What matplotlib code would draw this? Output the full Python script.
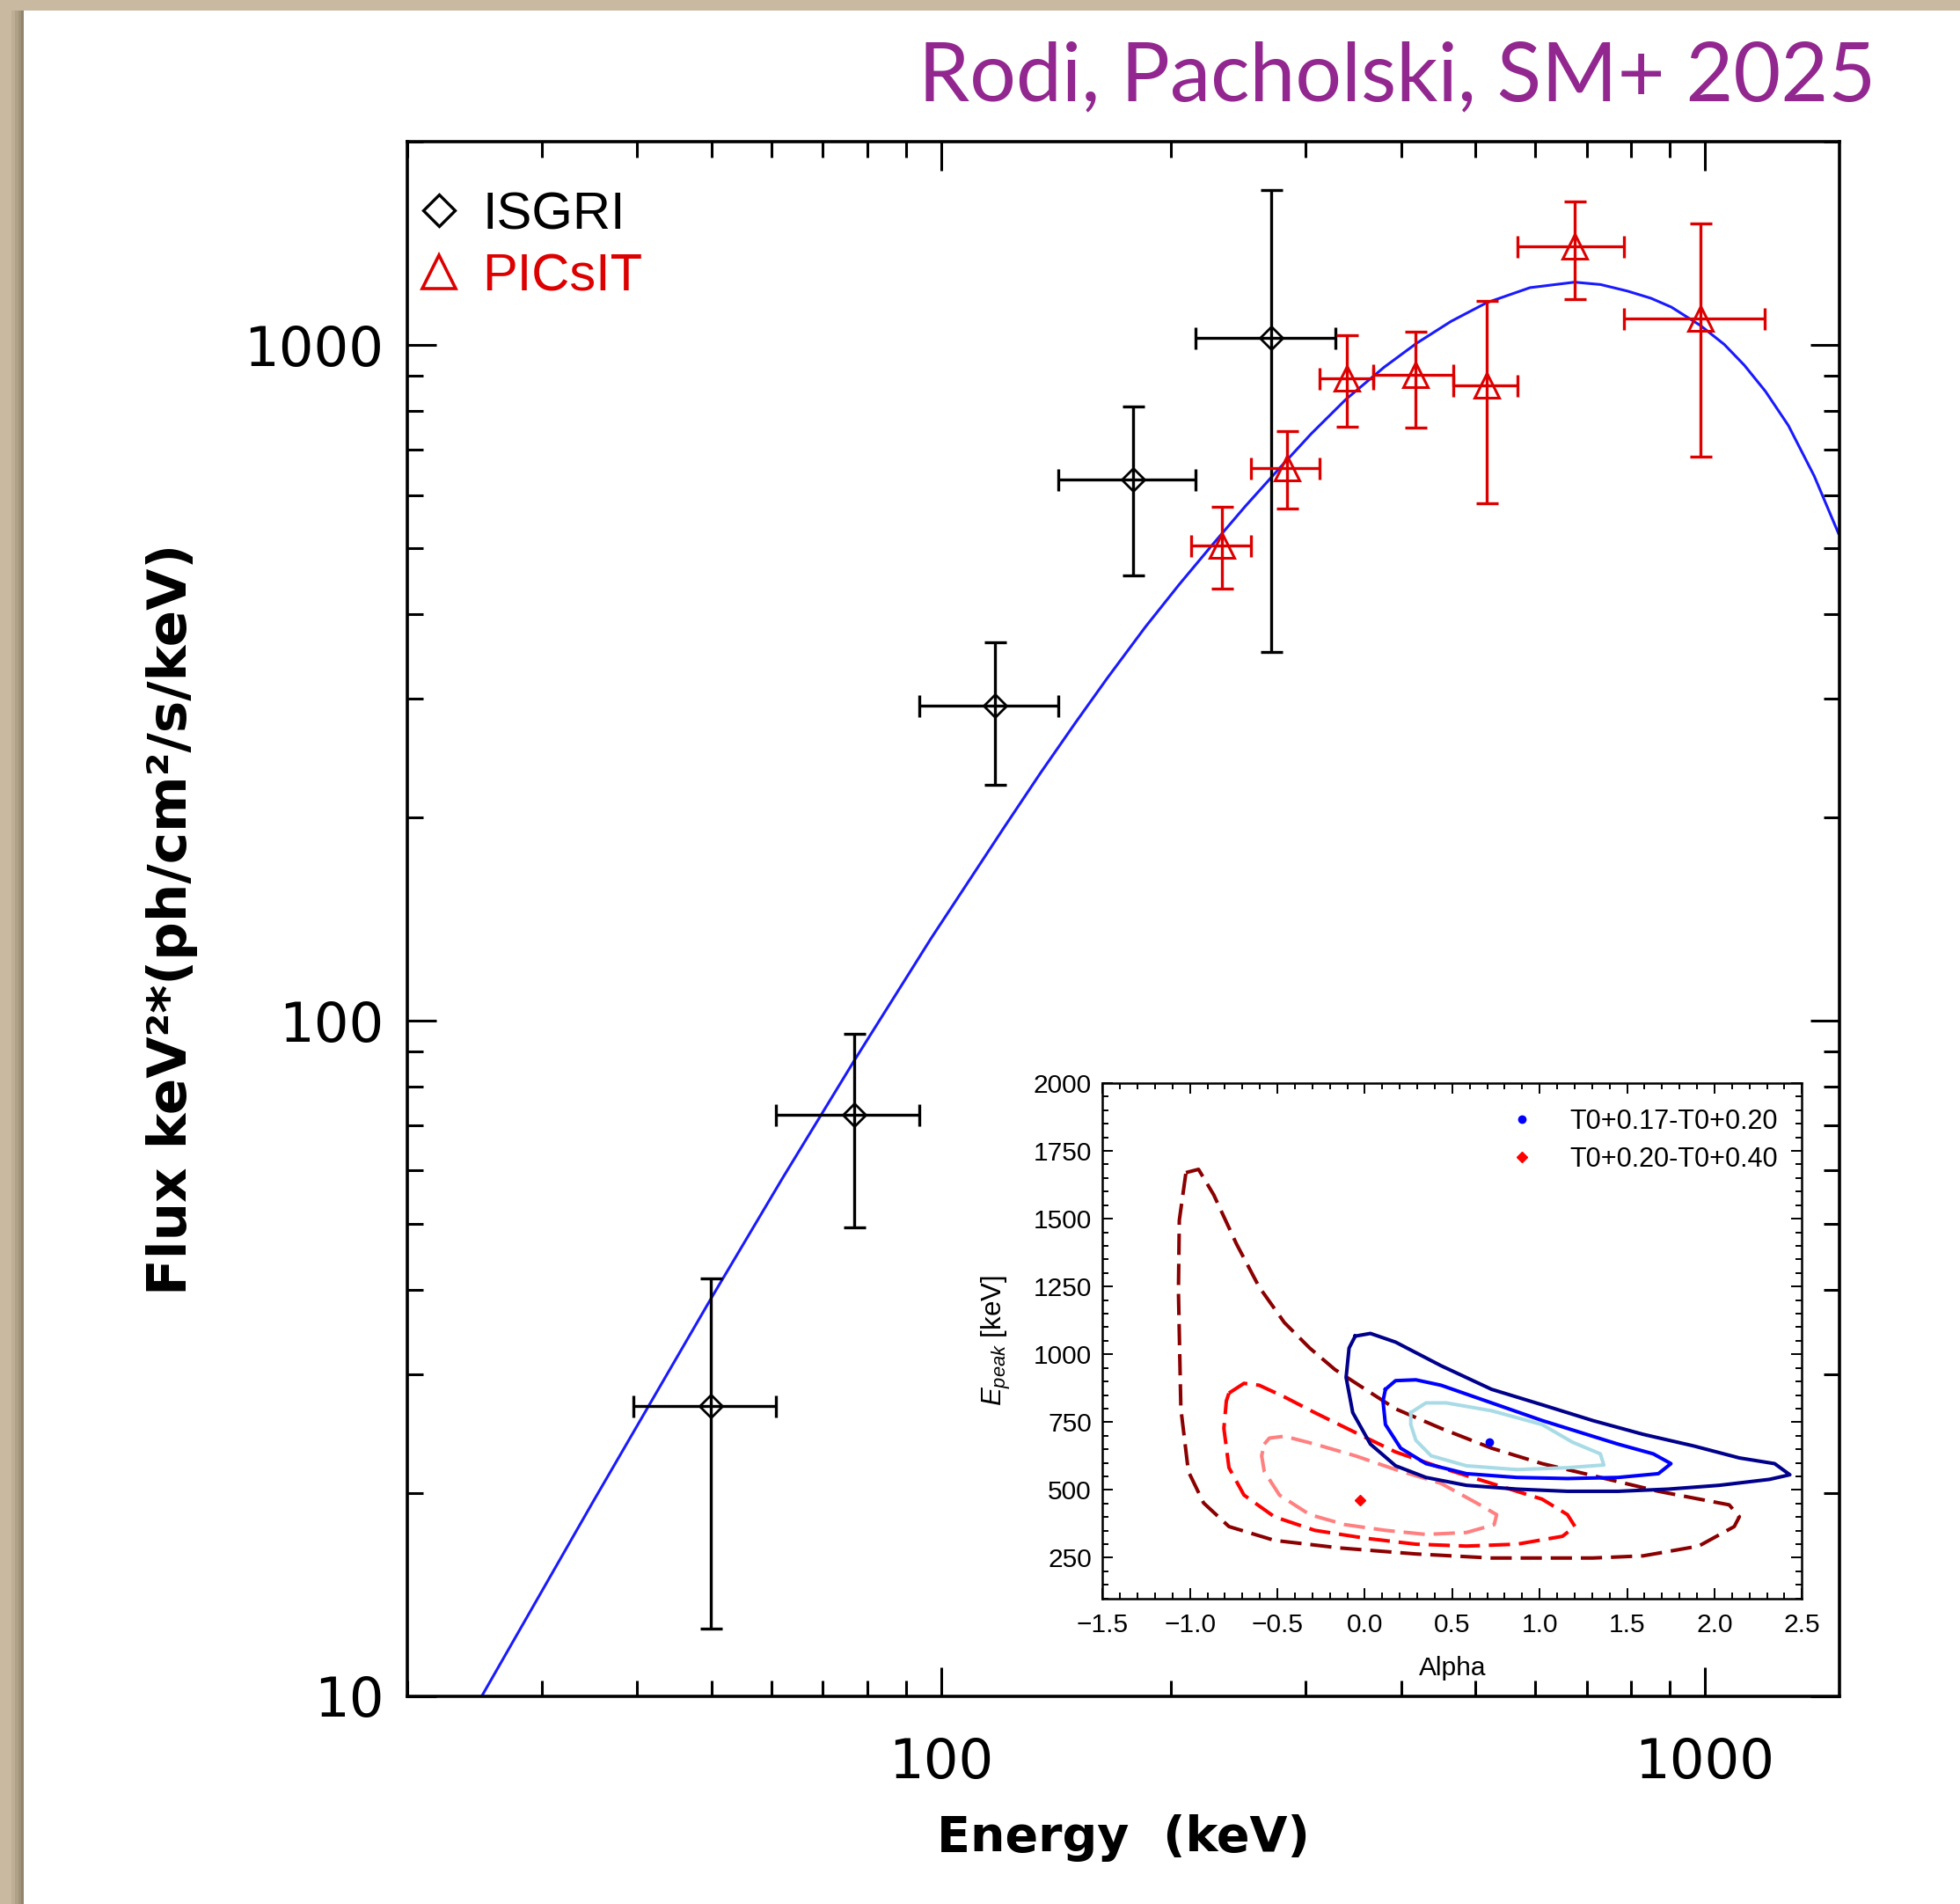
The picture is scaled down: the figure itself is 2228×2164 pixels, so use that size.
import matplotlib
matplotlib.use("Agg")
import matplotlib.pyplot as plt
from matplotlib.lines import Line2D
from matplotlib.patches import Rectangle
from matplotlib.ticker import FixedLocator, FixedFormatter, LogLocator, NullFormatter, MultipleLocator

plt.rcParams['mathtext.fontset'] = 'custom'
plt.rcParams['mathtext.rm'] = 'Liberation Sans'
plt.rcParams['mathtext.it'] = 'Liberation Sans:italic'

# ----------------------------
# Spectral data (keV, keV^2 ph/cm2/s/keV)
# ----------------------------
isgri_e    = [49.9, 77.0, 117.6, 178.5, 270.7]
isgri_e_lo = [39.5, 60.7, 93.7, 142.3, 215.5]
isgri_e_hi = [60.7, 93.7, 142.3, 215.5, 328.6]
isgri_f    = [26.9, 72.5, 292.5, 633.0, 1025.0]
isgri_f_lo = [12.6, 49.5, 223.6, 456.5, 351.0]
isgri_f_hi = [41.6, 95.6, 362.8, 810.0, 1696.0]

picsit_e    = [233.3, 283.6, 340.1, 417.8, 517.6, 675.0, 987.4]
picsit_e_lo = [212.3, 254.4, 313.2, 368.3, 468.8, 568.9, 782.6]
picsit_e_hi = [254.4, 313.2, 368.3, 468.8, 568.9, 782.6, 1196.0]
picsit_f    = [505.6, 658.0, 891.9, 903.2, 871.4, 1401.0, 1096.0]
picsit_f_lo = [435.6, 572.0, 756.5, 755.0, 583.7, 1169.0, 682.8]
picsit_f_hi = [576.8, 746.0, 1033.0, 1046.0, 1161.0, 1630.0, 1512.0]

# best-fit model, sampled along the curve
model_e = [25.1, 35.0, 49.9, 62.0, 77.0, 97.0, 120.8, 135.0, 150.0, 165.0,
           185.0, 205.0, 225.4, 250.0, 278.7, 305.0, 338.5, 380.0, 418.6, 465.0,
           517.6, 590.0, 675.0, 730.0, 791.5, 850.0, 903.7, 987.4, 1060.0, 1126.0,
           1200.0, 1286.0, 1390.0, 1496.0]
model_f = [10.06, 19.4, 38.7, 58.5, 87.4, 132.4, 193.0, 232.9, 276.4, 321.4,
           382.4, 442.4, 503.0, 576.9, 661.4, 738.8, 830.4, 927.0, 1005.0, 1084.0,
           1155.0, 1216.0, 1239.0, 1229.0, 1202.0, 1172.8, 1138.0, 1068.0, 1002.0, 933.5,
           854.0, 760.0, 640.0, 525.8]

# ----------------------------
# Confidence contours (alpha, Epeak)
# ----------------------------
late_99_a = [-1.023, -0.951, -0.864, -0.734, -0.604, -0.460, -0.315, -0.171, 0.003, 0.176,
             0.436, 0.725, 1.014, 1.303, 1.679, 2.084, 2.142, 2.113, 1.910, 1.592,
             1.303, 0.725, 0.292, -0.142, -0.517, -0.777, -0.922, -1.009, -1.052, -1.066, -1.061]
late_99_e = [1670, 1682, 1588, 1407, 1248, 1117, 1023, 944, 871, 799,
             727, 654, 597, 553, 495, 445, 401, 365, 293, 257,
             249, 249, 264, 286, 314, 365, 452, 568, 799, 1233, 1494]

late_90_a = [-0.777, -0.691, -0.604, -0.460, -0.286, -0.055, 0.176, 0.436, 0.725, 1.014,
             1.159, 1.202, 1.130, 0.870, 0.581, 0.292, 0.003, -0.286, -0.517, -0.691,
             -0.777, -0.806, -0.792]
late_90_e = [857, 893, 886, 843, 785, 712, 640, 582, 524, 466,
             409, 365, 329, 300, 293, 300, 322, 351, 401, 481,
             582, 727, 828]

late_68_a = [-0.575, -0.546, -0.460, -0.286, -0.055, 0.176, 0.436, 0.639, 0.754, 0.740,
             0.581, 0.350, 0.118, -0.113, -0.315, -0.488, -0.575, -0.590]
late_68_e = [669, 691, 698, 669, 626, 575, 524, 452, 409, 372,
             343, 336, 351, 372, 409, 481, 568, 626]

early_99_a = [-0.055, 0.032, 0.176, 0.436, 0.725, 1.014, 1.303, 1.592, 1.882, 2.142,
              2.344, 2.431, 2.315, 2.026, 1.737, 1.448, 1.159, 0.870, 0.581, 0.350,
              0.176, 0.032, -0.069, -0.107, -0.090]
early_99_e = [1067, 1077, 1045, 958, 871, 814, 756, 705, 662, 618,
              597, 556, 539, 517, 503, 495, 495, 503, 517, 546,
              589, 669, 785, 915, 1023]

early_90_a = [0.118, 0.176, 0.292, 0.436, 0.725, 1.014, 1.303, 1.448, 1.650, 1.751,
              1.679, 1.448, 1.159, 0.870, 0.581, 0.350, 0.205, 0.118, 0.104]
early_90_e = [871, 903, 906, 886, 821, 756, 698, 669, 633, 597,
              560, 546, 542, 546, 560, 597, 654, 741, 828]

early_68_a = [0.263, 0.350, 0.465, 0.725, 1.014, 1.188, 1.347, 1.367, 1.159, 0.870,
              0.581, 0.379, 0.292, 0.263]
early_68_e = [785, 821, 821, 792, 741, 676, 633, 592, 582, 575,
              589, 626, 683, 741]

best_early = (0.711, 676)
best_late = (-0.026, 462)

red = '#dd0000'

def closed(a, e):
    return a + a[:1], e + e[:1]

# ----------------------------
# Figure + page background
# ----------------------------
fig = plt.figure(figsize=(22.28, 21.64), dpi=100)
fig.patch.set_facecolor('#c9b9a0')
W, H = 2228.0, 2164.0
for k, a in [(14, 0.08), (10, 0.10), (6, 0.12), (3, 0.15)]:
    fig.patches.append(Rectangle(((27 - k) / W, 0), 1, (H - 12) / H, transform=fig.transFigure,
                                 facecolor='#3b2f1e', alpha=a, edgecolor='none', zorder=-12))
fig.patches.append(Rectangle((27 / W, 0), 1, (H - 12) / H, transform=fig.transFigure,
                             facecolor='white', edgecolor='none', zorder=-10))

fig.text(2132 / W, 1 - 88 / H, "Rodi, Pacholski, SM+ 2025", ha='right', va='center',
         color='#92278f', fontsize=67, fontweight='normal', family=['Lato', 'DejaVu Sans'])

# ----------------------------
# Main spectrum
# ----------------------------
ax = fig.add_axes([463 / W, 1 - 1928 / H, (2091 - 463) / W, (1928 - 161) / H])
ax.set_xscale('log')
ax.set_yscale('log')

ax.plot(model_e, model_f, color='#1a1aff', lw=2.2, zorder=2)

ax.errorbar(isgri_e, isgri_f,
            xerr=[[c - l for c, l in zip(isgri_e, isgri_e_lo)], [h - c for c, h in zip(isgri_e, isgri_e_hi)]],
            yerr=[[c - l for c, l in zip(isgri_f, isgri_f_lo)], [h - c for c, h in zip(isgri_f, isgri_f_hi)]],
            fmt='none', ecolor='black', elinewidth=2.4, capsize=9, capthick=2.4, zorder=3)
ax.plot(isgri_e, isgri_f, ls='none', marker='D', ms=13, mfc='none', mec='black', mew=2.0, zorder=4)

ax.errorbar(picsit_e, picsit_f,
            xerr=[[c - l for c, l in zip(picsit_e, picsit_e_lo)], [h - c for c, h in zip(picsit_e, picsit_e_hi)]],
            yerr=[[c - l for c, l in zip(picsit_f, picsit_f_lo)], [h - c for c, h in zip(picsit_f, picsit_f_hi)]],
            fmt='none', ecolor=red, elinewidth=2.4, capsize=9, capthick=2.4, zorder=3)
ax.plot(picsit_e, picsit_f, ls='none', marker='^', ms=20, mfc='none', mec=red, mew=2.2, zorder=4)

ax.set_xlim(20, 1500)
ax.set_ylim(10, 2000)

ax.xaxis.set_major_locator(FixedLocator([100, 1000]))
ax.xaxis.set_major_formatter(FixedFormatter(['100', '1000']))
ax.xaxis.set_minor_locator(LogLocator(base=10, subs=range(2, 10), numticks=20))
ax.xaxis.set_minor_formatter(NullFormatter())
ax.yaxis.set_major_locator(FixedLocator([10, 100, 1000]))
ax.yaxis.set_major_formatter(FixedFormatter(['10', '100', '1000']))
ax.yaxis.set_minor_locator(LogLocator(base=10, subs=range(2, 10), numticks=20))
ax.yaxis.set_minor_formatter(NullFormatter())

ax.tick_params(which='both', direction='in', top=True, right=True, width=2.2, color='black')
ax.tick_params(which='major', length=24)
ax.tick_params(which='minor', length=13)
ax.tick_params(axis='x', which='major', labelsize=45, pad=33)
ax.tick_params(axis='y', which='major', labelsize=45, pad=19)
for s in ax.spines.values():
    s.set_linewidth(2.6)

ax.set_xlabel("Energy  (keV)", fontsize=40, fontweight='bold')
ax.xaxis.set_label_coords(0.5, -0.076)
ax.set_ylabel("Flux keV²*(ph/cm²/s/keV)", fontsize=44, fontweight='bold')
ax.yaxis.set_label_coords(-0.146, 0.5)

handles = [Line2D([], [], ls='none', marker='D', ms=18, mfc='none', mec='black', mew=2.4),
           Line2D([], [], ls='none', marker='^', ms=27, mfc='none', mec=red, mew=2.6)]
leg = ax.legend(handles, ['ISGRI', 'PICsIT'], loc='upper left', bbox_to_anchor=(0.004, 0.975),
                borderaxespad=0, borderpad=0.2, frameon=False, handlelength=0.6,
                handletextpad=0.52, labelspacing=0.25,
                prop={'family': 'Liberation Sans', 'size': 43})
for t, c in zip(leg.get_texts(), ['black', red]):
    t.set_color(c)

# ----------------------------
# Inset: alpha vs Epeak contours
# ----------------------------
axi = fig.add_axes([1253.3 / W, 1 - 1816.7 / H, (2048.3 - 1253.3) / W, (1816.7 - 1231) / H])
axi.set_facecolor('white')

dash = (6, 2.5)
lw_c = 2.9
axi.plot(*closed(late_99_a, late_99_e), color='#8b0000', lw=lw_c, dashes=dash)
axi.plot(*closed(late_90_a, late_90_e), color='#ff0000', lw=lw_c, dashes=dash)
axi.plot(*closed(late_68_a, late_68_e), color='#ff8080', lw=lw_c, dashes=dash)
axi.plot(*closed(early_99_a, early_99_e), color='#00008b', lw=lw_c)
axi.plot(*closed(early_90_a, early_90_e), color='#0000ff', lw=lw_c)
axi.plot(*closed(early_68_a, early_68_e), color='#a8dbe6', lw=lw_c)

axi.plot([best_early[0]], [best_early[1]], ls='none', marker='o', ms=6, color='#0000ff',
         label='T0+0.17-T0+0.20')
axi.plot([best_late[0]], [best_late[1]], ls='none', marker='D', ms=6.5, color='#ff0000',
         label='T0+0.20-T0+0.40')

axi.set_xlim(-1.5, 2.5)
axi.set_ylim(100, 2000)
axi.xaxis.set_major_locator(MultipleLocator(0.5))
axi.xaxis.set_minor_locator(MultipleLocator(0.1))
axi.yaxis.set_major_locator(FixedLocator([250, 500, 750, 1000, 1250, 1500, 1750, 2000]))
axi.yaxis.set_minor_locator(MultipleLocator(50))
axi.tick_params(which='both', direction='in', top=True, right=True, width=1.4)
axi.tick_params(which='major', length=8.5)
axi.tick_params(which='minor', length=5)
axi.tick_params(axis='x', which='major', labelsize=21.5, pad=12)
axi.tick_params(axis='y', which='major', labelsize=21.5, pad=9)
for lab in axi.get_xticklabels() + axi.get_yticklabels():
    lab.set_family('Liberation Sans')
for s in axi.spines.values():
    s.set_linewidth(1.8)

axi.set_xlabel('Alpha', fontsize=21.5, family='Liberation Sans', labelpad=15)
axi.set_ylabel(r'$E_{peak}$ [keV]', fontsize=22.5, family='Liberation Sans', labelpad=17)

axi.legend(loc='upper right', bbox_to_anchor=(0.966, 0.951), borderaxespad=0, borderpad=0,
           frameon=False, handlelength=1.0, handletextpad=1.3, labelspacing=0.42,
           prop={'family': 'Liberation Sans', 'size': 22})

plt.savefig("out.png", dpi=100)
